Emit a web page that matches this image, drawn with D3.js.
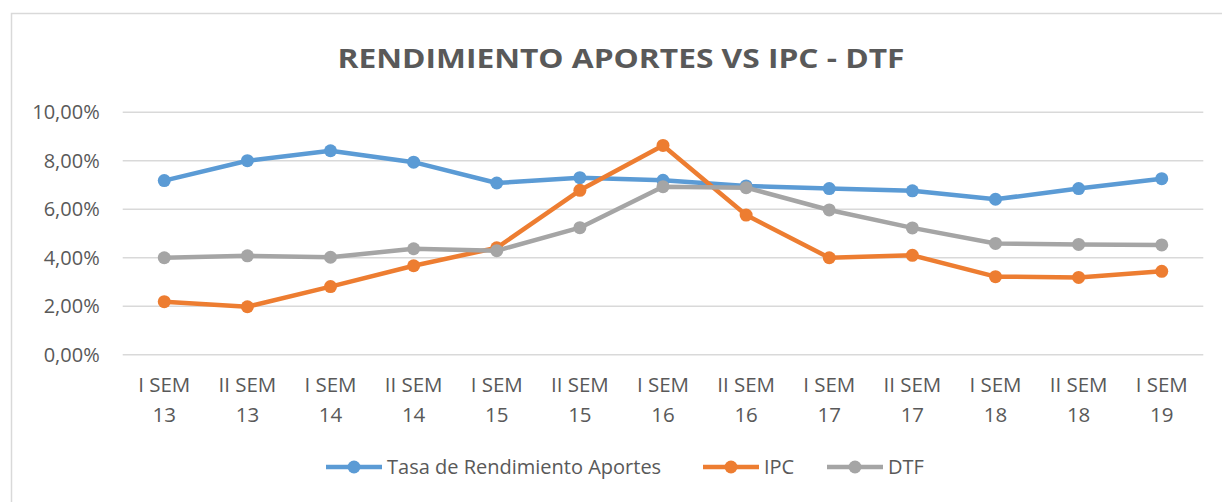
<!DOCTYPE html>
<html><head><meta charset="utf-8">
<script src="https://cdn.jsdelivr.net/npm/d3@7"></script>
<style>body{margin:0;background:#fff}svg{display:block}text{font-family:"Open Sans",sans-serif;fill:#595959}</style>
</head><body><svg id="c" width="1222" height="502"></svg>
<script>
const categories = ["I SEM 13","II SEM 13","I SEM 14","II SEM 14","I SEM 15","II SEM 15","I SEM 16","II SEM 16","I SEM 17","II SEM 17","I SEM 18","II SEM 18","I SEM 19"];
const tasa = [7.16,7.98,8.39,7.92,7.06,7.28,7.17,6.94,6.83,6.74,6.39,6.83,7.24];
const ipc  = [2.17,1.96,2.79,3.65,4.39,6.76,8.61,5.74,3.98,4.08,3.20,3.17,3.42];
const dtf  = [3.98,4.06,4.00,4.35,4.27,5.22,6.91,6.87,5.95,5.21,4.57,4.53,4.51];
const yTicks = [0,2,4,6,8,10];
const seriesNames = ["Tasa de Rendimiento Aportes","IPC","DTF"];
const colors = ["#5B9BD5","#ED7D31","#A5A5A5"];

const svg = d3.select("#c");
svg.append("path").attr("d","M11.5,502 V13.5 H1222").attr("fill","none").attr("stroke","#d9d9d9").attr("stroke-width",1.5);

svg.append("text").attr("x",621).attr("y",68).attr("text-anchor","middle")
  .style("font-size","27px").style("font-weight","bold").attr("textLength",567).attr("lengthAdjust","spacingAndGlyphs")
  .text("RENDIMIENTO APORTES VS IPC - DTF");

const x = d3.scalePoint().domain(categories).range([122.7,1203.3]).padding(0.5);
const y = d3.scaleLinear().domain([0,10]).range([354.3,111.7]);

const yAxis = d3.axisLeft(y).tickValues(yTicks).tickSize(-(1203.3-122.7)).tickFormat(d=>d3.format(".2f")(d).replace(".",",")+"%");
const gy = svg.append("g").attr("transform","translate(122.7,0)").call(yAxis);
gy.select(".domain").remove();
gy.selectAll(".tick line").attr("stroke","#d9d9d9").attr("stroke-width",1.5);
gy.selectAll(".tick text").attr("x",-23).attr("dy","0.36em").style("font-size","20px").style("font-family","Open Sans").attr("fill","#595959");

const gx = svg.append("g");
categories.forEach(c=>{
  const parts = c.split(" ");
  const t = gx.append("text").attr("text-anchor","middle").style("font-size","20.5px");
  t.append("tspan").attr("x",x(c)).attr("y",392).text(parts[0]+" "+parts[1]);
  t.append("tspan").attr("x",x(c)).attr("y",422).text(parts[2]);
});

const line = d3.line().x((d,i)=>x(categories[i])).y(d=>y(d));
[tasa,ipc,dtf].forEach((s,k)=>{
  svg.append("path").datum(s).attr("d",line).attr("fill","none").attr("stroke",colors[k]).attr("stroke-width",4.5).attr("stroke-linejoin","round");
  svg.append("g").selectAll("circle").data(s).join("circle")
    .attr("cx",(d,i)=>x(categories[i])).attr("cy",d=>y(d)).attr("r",6.5).attr("fill",colors[k]);
});

const legX = [326,703,827];
seriesNames.forEach((n,k)=>{
  const g = svg.append("g").attr("transform",`translate(${legX[k]},467)`);
  g.append("line").attr("x1",0).attr("x2",56).attr("stroke",colors[k]).attr("stroke-width",4.5);
  g.append("circle").attr("cx",28).attr("r",6.5).attr("fill",colors[k]);
  g.append("text").attr("x",61).attr("y",0).attr("dy","0.36em").style("font-size","20px").text(n);
});
</script></body></html>
